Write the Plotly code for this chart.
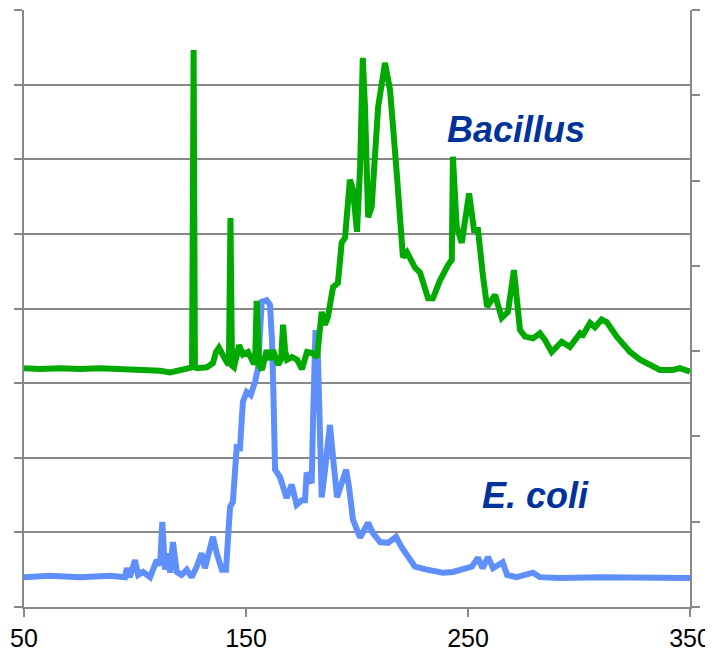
import plotly.graph_objects as go

# Bacillus trace (right axis units, 0-7)
bac_x = [50.0, 57.2, 66.2, 75.2, 84.2, 93.2, 102.3, 111.3, 115.8, 120.3, 124.8, 125.7, 126.4, 127.0, 127.9,
         132.3, 135.1, 136.5, 137.8, 139.6, 141.4, 142.3, 143.0, 143.7, 144.6, 146.9, 148.6, 150.9, 153.2,
         154.1, 154.8, 155.9, 157.2, 159.3, 160.8, 162.2, 164.4, 165.8, 166.7, 167.6, 168.5, 170.7, 173.0,
         175.2, 177.5, 179.7, 182.0, 184.1, 185.6, 186.9, 189.2, 191.4, 193.1, 194.6, 196.8, 198.2, 200.0,
         201.4, 202.6, 203.6, 205.0, 206.6, 209.5, 212.6, 214.9, 217.9, 220.7, 222.5, 224.6, 226.1, 228.4,
         232.0, 234.2, 237.4, 241.0, 242.7, 243.2, 244.9, 247.2, 250.5, 252.7, 254.5, 256.8, 258.6, 262.2,
         265.2, 268.0, 270.7, 273.4, 275.7, 279.3, 282.4, 284.7, 287.7, 292.2, 295.9, 300.5, 301.8, 305.0,
         307.2, 310.2, 312.5, 317.0, 323.0, 327.5, 332.0, 336.5, 342.3, 345.5, 350.0]
bac_y = [2.80, 2.79, 2.80, 2.79, 2.80, 2.79, 2.79, 2.77, 2.75, 2.77, 2.79, 2.81, 6.53, 2.81, 2.80,
         2.81, 2.86, 2.99, 3.04, 2.94, 2.87, 2.84, 4.56, 2.83, 2.81, 3.07, 2.96, 2.99, 2.87,
         2.87, 3.59, 2.83, 2.78, 3.01, 2.90, 3.01, 2.84, 2.90, 3.31, 3.01, 2.90, 2.93, 2.90,
         2.79, 2.99, 2.98, 2.93, 3.46, 3.31, 3.40, 3.75, 3.80, 4.27, 4.33, 5.01, 4.89, 4.40,
         5.16, 6.44, 5.86, 4.57, 4.69, 5.86, 6.38, 6.06, 5.09, 4.10, 4.16, 4.05, 3.98, 3.92,
         3.62, 3.62, 3.83, 4.01, 4.07, 5.28, 4.46, 4.27, 4.85, 4.42, 4.42, 3.87, 3.52, 3.66,
         3.39, 3.46, 3.95, 3.25, 3.17, 3.15, 3.21, 3.13, 2.99, 3.11, 3.05, 3.21, 3.19, 3.33,
         3.28, 3.37, 3.34, 3.17, 2.99, 2.90, 2.84, 2.78, 2.78, 2.80, 2.76]

# E. coli trace (left axis units, 0-8)
eco_x = [50.0, 61.7, 75.2, 88.7, 95.5, 96.3, 97.7, 100.0, 101.4, 103.6, 106.8, 109.8, 111.3, 112.3, 113.5,
         114.9, 115.8, 117.1, 118.8, 121.0, 123.3, 125.5, 127.8, 130.0, 131.5, 132.9, 135.1, 136.8, 139.1,
         141.0, 142.8, 144.1, 145.8, 147.3, 148.6, 150.3, 152.1, 154.1, 155.4, 157.1, 159.3, 160.8, 161.7,
         162.4, 163.1, 165.3, 168.3, 170.6, 172.8, 175.1, 176.6, 177.3, 179.6, 180.2, 181.3, 182.4, 183.3,
         184.1, 185.6, 187.8, 189.2, 191.0, 193.1, 195.1, 196.4, 198.2, 201.4, 203.6, 205.0, 207.2, 210.4,
         214.0, 217.6, 220.1, 223.0, 226.1, 231.4, 238.7, 243.2, 248.6, 251.7, 254.5, 256.6, 259.0, 261.3,
         265.6, 267.6, 271.9, 276.4, 279.3, 282.4, 291.4, 309.5, 327.5, 350.0]
eco_y = [0.40, 0.42, 0.40, 0.42, 0.40, 0.52, 0.40, 0.63, 0.43, 0.47, 0.40, 0.63, 0.56, 1.14, 0.50,
         0.72, 0.46, 0.87, 0.47, 0.43, 0.50, 0.40, 0.54, 0.72, 0.52, 0.67, 0.94, 0.72, 0.50,
         0.50, 1.34, 1.41, 2.14, 2.13, 2.75, 2.88, 2.84, 3.02, 3.20, 4.09, 4.11, 4.05, 3.58,
         2.81, 1.84, 1.74, 1.46, 1.64, 1.37, 1.43, 1.43, 1.80, 1.66, 2.51, 3.71, 3.35, 1.93,
         1.47, 1.84, 2.44, 2.01, 1.47, 1.66, 1.84, 1.61, 1.17, 0.93, 1.03, 1.13, 0.99, 0.87,
         0.86, 0.94, 0.80, 0.66, 0.54, 0.50, 0.46, 0.47, 0.52, 0.54, 0.66, 0.52, 0.67, 0.52,
         0.60, 0.43, 0.40, 0.43, 0.46, 0.40, 0.39, 0.40, 0.39, 0.39]

x_ticks = [50, 150, 250, 350]
labels = ["Bacillus", "E. coli"]

GRAY = "#888888"
GREEN = "#00AA00"
BLUE = "#5F8FFA"
TEXT = "#003399"

fig = go.Figure()
fig.add_trace(go.Scatter(x=eco_x, y=eco_y, mode="lines", yaxis="y",
                         line=dict(color=BLUE, width=6), showlegend=False, hoverinfo="skip"))
fig.add_trace(go.Scatter(x=bac_x, y=bac_y, mode="lines", yaxis="y2",
                         line=dict(color=GREEN, width=6), showlegend=False, hoverinfo="skip"))

fig.add_annotation(x=271.4, y=0.799, xref="x", yref="paper", xanchor="center", yanchor="middle",
                   text="<b><i>" + labels[0] + "</i></b>", showarrow=False,
                   font=dict(family="Liberation Sans, Arial", size=36, color=TEXT))
fig.add_annotation(x=280.6, y=0.187, xref="x", yref="paper", xanchor="center", yanchor="middle",
                   text="<b><i>" + labels[1] + "</i></b>", showarrow=False,
                   font=dict(family="Liberation Sans, Arial", size=36, color=TEXT))

fig.update_layout(
    width=705, height=645,
    margin=dict(l=16, r=23, t=2, b=46, autoexpand=False),
    paper_bgcolor="white", plot_bgcolor="white",
    font=dict(family="Liberation Sans, Arial", size=25, color="black"),
    xaxis=dict(range=[50, 350], tickvals=x_ticks, ticks="outside", ticklen=8, tickwidth=2,
               tickcolor=GRAY, showline=True, linecolor=GRAY, linewidth=2, showgrid=False,
               zeroline=False, tickfont=dict(size=25), automargin=False),
    yaxis=dict(range=[0, 8], dtick=1, tick0=0, ticks="outside", ticklen=8, tickwidth=2,
               tickcolor=GRAY, showline=True, linecolor=GRAY, linewidth=2, showgrid=True,
               gridcolor=GRAY, gridwidth=2, zeroline=False, showticklabels=False, automargin=False),
    yaxis2=dict(range=[0, 7], dtick=1, tick0=0, ticks="outside", ticklen=8, tickwidth=2,
                tickcolor=GRAY, showline=True, linecolor=GRAY, linewidth=2, showgrid=False,
                zeroline=False, showticklabels=False, overlaying="y", side="right", automargin=False),
)

fig.write_html("out.html")
